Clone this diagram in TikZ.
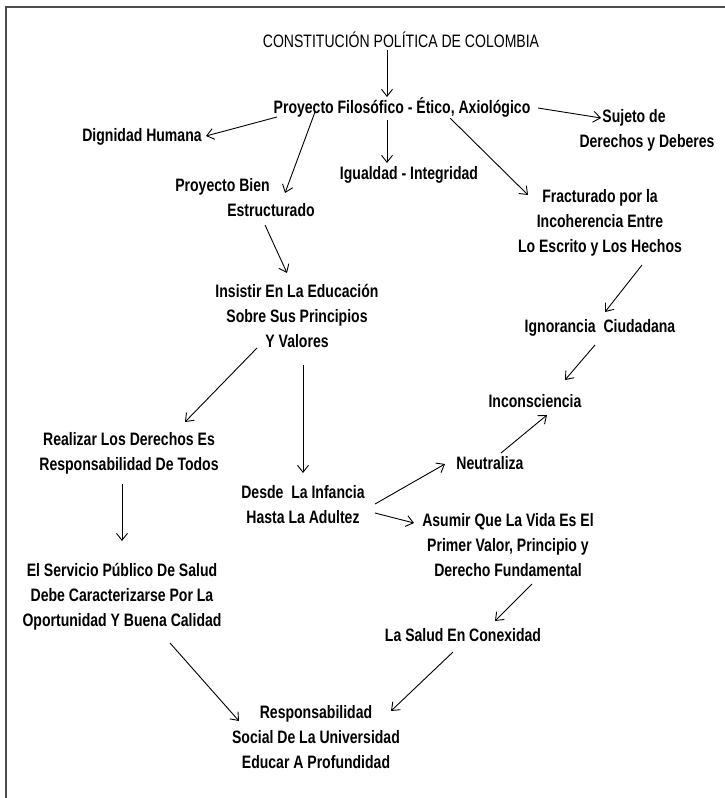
\documentclass[tikz,border=0pt]{standalone}
\usepackage{fontspec}
\usepackage{tikz}
\usetikzlibrary{arrows.meta,positioning}

\newfontfamily\narrowfont{Liberation Sans}[FakeStretch=0.78]

\begin{document}
\begin{tikzpicture}[
        x=1pt, y=-1pt,
        on grid,
        every node/.style={align=center, inner sep=0pt, text=black,
            font=\narrowfont\bfseries\fontsize{18}{25}\selectfont},
        title/.style={font=\narrowfont\mdseries\fontsize{18}{25}\selectfont},
        every path/.style={line width=0.9pt},
        >={Straight Barb[length=7pt,width=11pt]}
    ]
    \useasboundingbox (0,0) rectangle (725,798);
    \draw[gray!60!black, line width=2pt] (725,7) -- (6,7) -- (6,798);

    % Nodes
    \node (const)[title] at (401,40) {CONSTITUCIÓN POLÍTICA DE COLOMBIA};
    \node (filo)[below right=67pt and 1pt of const] {Proyecto Filosófico - Ético, Axiológico};
    \node (sujeto)[below right=23pt and 245pt of filo] {Sujeto de\hspace*{26pt}\\ Derechos y Deberes};
    \node (dignidad)[below left=30pt and 260pt of filo] {Dignidad Humana};
    \node (bien)[below left=91pt and 157pt of filo, align=left] {Proyecto Bien\\ \hspace*{52pt}Estructurado};
    \node (igualdad)[below right=68pt and 7pt of filo] {Igualdad - Integridad};
    \node (fractura)[below right=116pt and 198pt of filo] {Fracturado por la\\ Incoherencia Entre\\ Lo Escrito y Los Hechos};
    \node (insistir)[below right=118pt and 52pt of bien] {Insistir En La Educación\\ Sobre Sus Principios\\ Y Valores};
    \node (ignorancia)[below=105pt of fractura] {Ignorancia\ \ Ciudadana};
    \node (inconsciencia)[below left=73pt and 65pt of ignorancia] {Inconsciencia};
    \node (realizar)[below left=137pt and 168pt of insistir] {Realizar Los Derechos Es\\ Responsabilidad De Todos};
    \node (desde)[below right=189pt and 6pt of insistir] {Desde\ \ La Infancia\\ Hasta La Adultez};
    \node (neutraliza)[above right=42pt and 187pt of desde] {Neutraliza};
    \node (asumir)[below right=40pt and 205pt of desde] {Asumir Que La Vida Es El\\ Primer Valor, Principio y\\ Derecho Fundamental};
    \node (servicio)[below left=144pt and 7pt of realizar] {El Servicio Público De Salud\\ Debe Caracterizarse Por La\\ Oportunidad Y Buena Calidad};
    \node (salud)[below left=90pt and 45pt of asumir] {La Salud En Conexidad};
    \node (resp)[below right=140pt and 194pt of servicio] {Responsabilidad\\ Social De La Universidad\\ Educar A Profundidad};

    % Edges
    \draw[->] ([shift={(-14,10)}]const.center) -- ([shift={(-15,-10)}]filo.center);
    \draw[->] ([shift={(136,1)}]filo.center) -- ([shift={(-46,-12)}]sujeto.center);
    \draw[->] ([shift={(-125,10)}]filo.center) -- ([shift={(64,-1)}]dignidad.center);
    \draw[->] ([shift={(-87,5)}]filo.center) -- ([shift={(40,-5)}]bien.center);
    \draw[->] ([shift={(-15,13)}]filo.center) -- ([shift={(-22,-12)}]igualdad.center);
    \draw[->] ([shift={(48,11)}]filo.center) -- ([shift={(-72,-28)}]fractura.center);
    \draw[->] ([shift={(20,27)}]bien.center) -- ([shift={(-10,-43)}]insistir.center);
    \draw[->] ([shift={(42,42)}]fractura.center) -- ([shift={(5,-16)}]ignorancia.center);
    \draw[->] ([shift={(-5,17)}]ignorancia.center) -- ([shift={(30,-21)}]inconsciencia.center);
    \draw[->] ([shift={(-40,32)}]insistir.center) -- ([shift={(56,-31)}]realizar.center);
    \draw[->] ([shift={(6,49)}]insistir.center) -- ([shift={(0,-32)}]desde.center);
    \draw[->] ([shift={(-7,31)}]realizar.center) -- ([shift={(0,-56)}]servicio.center);
    \draw[->] ([shift={(72,-1)}]desde.center) -- ([shift={(-45,1)}]neutraliza.center);
    \draw[->] ([shift={(72,8)}]desde.center) -- ([shift={(-94,-22)}]asumir.center);
    \draw[->] ([shift={(11,-10)}]neutraliza.center) -- ([shift={(12,14)}]inconsciencia.center);
    \draw[->] ([shift={(24,39)}]asumir.center) -- ([shift={(32,-14)}]salud.center);
    \draw[->] ([shift={(48,46)}]servicio.center) -- ([shift={(-77,-16)}]resp.center);
    \draw[->] ([shift={(-10,17)}]salud.center) -- ([shift={(75,-26)}]resp.center);

\end{tikzpicture}
\end{document}
